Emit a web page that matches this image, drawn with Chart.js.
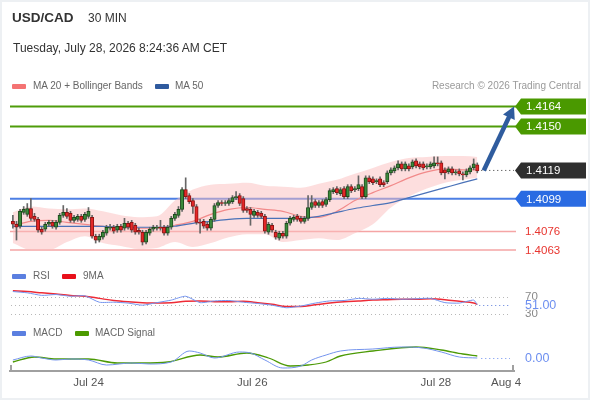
<!DOCTYPE html>
<html>
<head>
<meta charset="utf-8">
<script src="https://cdn.jsdelivr.net/npm/chart.js@4.4.1/dist/chart.umd.min.js"></script>
<style>
  html, body { margin: 0; padding: 0; background: #fff; }
  #wrap { position: relative; width: 590px; height: 400px; overflow: hidden;
          font-family: "Liberation Sans", Arial, sans-serif; color: #333; }
  #wrap canvas { position: absolute; left: 0; top: 0; }
  .t { position: absolute; white-space: nowrap; height: 14px; line-height: 14px; }
  .sw { position: absolute; width: 14px; height: 5px; border-radius: 1px; }
  .lg { font-size: 10px; color: #666; }
  #frame { position: absolute; left: 0; top: 0; right: 0; bottom: 0;
           border: 2px solid #edf0f3; pointer-events: none; }
</style>
</head>
<body>
<div id="wrap">
  <canvas id="cPrice" width="590" height="400"></canvas>
  <canvas id="cRsi" width="590" height="400"></canvas>
  <canvas id="cMacd" width="590" height="400"></canvas>

  <div class="t" style="left:12px;top:11px;font-size:13.5px;font-weight:bold;">USD/CAD</div>
  <div class="t" style="left:88px;top:11px;font-size:12px;">30 MIN</div>
  <div class="t" style="left:13px;top:41px;font-size:12px;">Tuesday, July 28, 2026 8:24:36 AM CET</div>

  <div class="sw" style="left:12px;top:84px;background:#f47373;"></div>
  <div class="t lg" style="left:33px;top:79px;">MA 20 + Bollinger Bands</div>
  <div class="sw" style="left:155px;top:84px;background:#2f5a9e;"></div>
  <div class="t lg" style="left:175px;top:79px;">MA 50</div>
  <div class="t lg" style="right:9px;top:79px;color:#9a9a9a;">Research © 2026 Trading Central</div>

  <div class="sw" style="left:12px;top:274px;background:#5b7fe0;"></div>
  <div class="t lg" style="left:33px;top:269px;">RSI</div>
  <div class="sw" style="left:62px;top:274px;background:#e8101a;"></div>
  <div class="t lg" style="left:83px;top:269px;">9MA</div>

  <div class="sw" style="left:12px;top:331px;background:#5b7fe0;"></div>
  <div class="t lg" style="left:33px;top:326px;">MACD</div>
  <div class="sw" style="left:75px;top:331px;background:#4c9a00;"></div>
  <div class="t lg" style="left:95px;top:326px;">MACD Signal</div>

  <div id="frame"></div>
</div>

<script>
// ---- data ----
const candleOpen = [
  1.40832,1.40811,1.40797,1.40895,1.40881,1.40922,1.40867,1.40846,1.40776,1.40776,
  1.40811,1.40825,1.40790,1.40825,1.40874,1.40895,1.40888,1.40839,1.40846,1.40867,
  1.40846,1.40867,1.40860,1.40727,1.40700,1.40720,1.40748,1.40783,1.40790,1.40769,
  1.40797,1.40783,1.40818,1.40825,1.40804,1.40769,1.40755,1.40686,1.40748,1.40776,
  1.40783,1.40790,1.40790,1.40748,1.40790,1.40853,1.40874,1.40916,1.41055,1.41013,
  1.40978,1.40936,1.40825,1.40832,1.40811,1.40783,1.40846,1.40943,1.40964,1.40957,
  1.40957,1.40971,1.40999,1.41013,1.40992,1.40922,1.40916,1.40874,1.40895,1.40888,
  1.40867,1.40755,1.40804,1.40755,1.40713,1.40748,1.40727,1.40818,1.40846,1.40867,
  1.40853,1.40832,1.40853,1.40929,1.40971,1.40943,1.40971,1.40950,1.40985,1.41041,
  1.41062,1.41027,1.41062,1.41006,1.41076,1.41055,1.41062,1.41076,1.41006,1.41138,
  1.41131,1.41111,1.41131,1.41104,1.41111,1.41173,1.41187,1.41208,1.41236,1.41201,
  1.41222,1.41215,1.41257,1.41236,1.41236,1.41215,1.41215,1.41222,1.41243,1.41243,
  1.41194,1.41180,1.41201,1.41173,1.41187,1.41166,1.41159,1.41180,1.41208,1.41229];
const candleHigh = [
  1.40874,1.40832,1.40916,1.40936,1.40957,1.40992,1.40888,1.40860,1.40790,1.40825,
  1.40839,1.40839,1.40839,1.40888,1.40943,1.40922,1.40902,1.40874,1.40881,1.40881,
  1.40895,1.40929,1.40874,1.40741,1.40741,1.40769,1.40804,1.40811,1.40804,1.40811,
  1.40811,1.40853,1.40832,1.40839,1.40818,1.40783,1.40769,1.40769,1.40790,1.40804,
  1.40804,1.40839,1.40804,1.40804,1.40867,1.40895,1.40936,1.41069,1.41138,1.41027,
  1.40992,1.40950,1.40846,1.40846,1.40825,1.40860,1.40957,1.40978,1.40978,1.40978,
  1.40992,1.41013,1.41041,1.41027,1.41006,1.40936,1.40929,1.40916,1.40909,1.40902,
  1.40881,1.40825,1.40818,1.40769,1.40762,1.40762,1.40832,1.40867,1.40874,1.40881,
  1.40867,1.40867,1.41013,1.41013,1.40985,1.40978,1.40985,1.40999,1.41062,1.41069,
  1.41076,1.41069,1.41076,1.41090,1.41090,1.41076,1.41152,1.41090,1.41152,1.41152,
  1.41145,1.41131,1.41145,1.41118,1.41187,1.41208,1.41222,1.41257,1.41250,1.41250,
  1.41236,1.41264,1.41271,1.41250,1.41250,1.41236,1.41250,1.41285,1.41285,1.41257,
  1.41208,1.41215,1.41215,1.41194,1.41201,1.41180,1.41201,1.41222,1.41271,1.41243];
const candleLow = [
  1.40783,1.40700,1.40783,1.40881,1.40867,1.40839,1.40832,1.40755,1.40741,1.40762,
  1.40797,1.40783,1.40776,1.40811,1.40860,1.40853,1.40825,1.40825,1.40832,1.40825,
  1.40832,1.40853,1.40713,1.40679,1.40686,1.40706,1.40734,1.40769,1.40748,1.40755,
  1.40755,1.40769,1.40776,1.40755,1.40741,1.40741,1.40665,1.40672,1.40734,1.40762,
  1.40769,1.40769,1.40734,1.40734,1.40776,1.40839,1.40860,1.40902,1.40992,1.40957,
  1.40888,1.40811,1.40748,1.40783,1.40769,1.40769,1.40832,1.40929,1.40943,1.40943,
  1.40943,1.40957,1.40985,1.40943,1.40895,1.40895,1.40804,1.40860,1.40860,1.40853,
  1.40748,1.40741,1.40755,1.40706,1.40700,1.40713,1.40713,1.40804,1.40832,1.40832,
  1.40818,1.40818,1.40839,1.40916,1.40929,1.40929,1.40929,1.40936,1.40971,1.41027,
  1.41020,1.41013,1.40992,1.40992,1.41034,1.41041,1.41048,1.40992,1.40992,1.41097,
  1.41090,1.41097,1.41076,1.41076,1.41097,1.41159,1.41173,1.41194,1.41187,1.41187,
  1.41187,1.41201,1.41208,1.41201,1.41194,1.41201,1.41201,1.41208,1.41222,1.41159,
  1.41131,1.41166,1.41159,1.41159,1.41152,1.41124,1.41145,1.41166,1.41194,1.41173];
const candleClose = [
  1.40811,1.40790,1.40902,1.40916,1.40922,1.40853,1.40846,1.40769,1.40755,1.40811,
  1.40825,1.40797,1.40825,1.40874,1.40895,1.40867,1.40839,1.40860,1.40867,1.40839,
  1.40881,1.40902,1.40727,1.40700,1.40727,1.40755,1.40790,1.40790,1.40762,1.40797,
  1.40769,1.40818,1.40790,1.40769,1.40755,1.40755,1.40686,1.40755,1.40776,1.40790,
  1.40790,1.40783,1.40748,1.40790,1.40853,1.40881,1.40916,1.41055,1.41006,1.40971,
  1.40936,1.40825,1.40818,1.40797,1.40783,1.40846,1.40943,1.40964,1.40957,1.40964,
  1.40978,1.40999,1.41006,1.40957,1.40909,1.40909,1.40881,1.40902,1.40874,1.40867,
  1.40762,1.40811,1.40769,1.40720,1.40748,1.40727,1.40818,1.40853,1.40860,1.40846,
  1.40832,1.40853,1.40929,1.40964,1.40943,1.40964,1.40943,1.40985,1.41048,1.41055,
  1.41034,1.41055,1.41006,1.41076,1.41048,1.41062,1.41090,1.41006,1.41138,1.41111,
  1.41104,1.41118,1.41090,1.41090,1.41173,1.41194,1.41208,1.41236,1.41201,1.41236,
  1.41201,1.41250,1.41222,1.41215,1.41208,1.41222,1.41236,1.41243,1.41236,1.41173,
  1.41173,1.41201,1.41173,1.41180,1.41166,1.41159,1.41187,1.41208,1.41236,1.41187];

// Bollinger bands and moving averages, sampled at these candle positions
const bandIdx = [0,5,10,15,20,25,30,35,40,45,50,55,60,65,70,75,80,85,90,95,100,105,110,115,120,125,129];
const bandUpper = [1.40895,1.40936,1.40922,1.40916,1.40922,1.40902,1.40874,1.40860,1.40867,1.40978,
  1.41055,1.41090,1.41097,1.41104,1.41083,1.41076,1.41069,1.41097,1.41124,1.41166,
  1.41208,1.41250,1.41278,1.41285,1.41292,1.41292,1.41285];
const bandLower = [1.40679,1.40630,1.40630,1.40686,1.40727,1.40679,1.40658,1.40637,1.40644,1.40686,
  1.40651,1.40679,1.40720,1.40741,1.40741,1.40686,1.40700,1.40713,1.40700,1.40748,
  1.40811,1.40929,1.41006,1.41062,1.41104,1.41124,1.41138];
const ma20 = [1.40804,1.40832,1.40839,1.40825,1.40811,1.40797,1.40790,1.40783,1.40783,1.40804,
  1.40832,1.40881,1.40916,1.40929,1.40916,1.40902,1.40867,1.40860,1.40902,1.40978,
  1.41034,1.41083,1.41138,1.41180,1.41201,1.41194,1.41194];
const ma50 = [1.40797,1.40797,1.40797,1.40797,1.40797,1.40797,1.40790,1.40790,1.40790,1.40797,
  1.40818,1.40832,1.40846,1.40853,1.40853,1.40853,1.40853,1.40867,1.40895,1.40922,
  1.40943,1.40964,1.40999,1.41034,1.41069,1.41104,1.41131];

// key levels on the right
const levelValues = [1.4164, 1.4150, 1.4119, 1.4099, 1.4076, 1.4063];
const levelLabels = ['1.4164', '1.4150', '1.4119', '1.4099', '1.4076', '1.4063'];
const levelKinds  = ['res', 'res', 'last', 'pivot', 'sup', 'sup'];
// projected move: from last close to first target
const arrowX = [130.8, 139.2];
const arrowY = [1.4119, 1.4164];

// RSI panel
const rsiIdx = [0,4,8,12,16,20,24,28,32,36,40,44,48,52,56,60,64,68,72,76,80,84,88,92,96,100,104,108,112,116,120,124,128,129];
const rsiValues = [82,79,73,75,71,72,57,57,55,50,56,62,71,56,60,61,57,54,50,44,48,55,60,61,66,64,66,64,65,66,56,55,62,51];
const rsiMa = [84,82,79,76,73,71,66,61,58,56,55,56,59,60,58,58,59,56,52,47,47,51,55,58,60,62,63,64,64,65,63,59,55,52];
const rsiGrid = [70, 50, 30];
const rsiTickLabels = ['70', '30'];
const rsiLast = 51;

// MACD panel
const macdIdx = [0,5,8,12,16,21,26,33,38,44,49,52,56,63,66,70,75,80,83,87,91,100,108,114,119,124,129];
const macdValues = [-0.00004,0.00004,0,-0.00004,-0.00002,-0.00004,-0.00014,-0.0001,-0.00012,-0.00008,
  0.00014,0.0001,0,0.00012,0.0001,-0.00004,-0.0002,-0.00016,-0.00004,0.00006,
  0.00014,0.00018,0.00022,0.0002,0.00012,0.00002,0];
const signalIdx = [0,6,12,21,29,36,43,52,57,65,71,77,82,87,91,100,112,119,125,129];
const signalValues = [-0.00008,0.00002,-0.00002,-0.00002,-0.0001,-0.0001,-0.00008,0.00006,0.00002,0.0001,
  0,-0.00016,-0.00014,-0.00008,0.00004,0.00014,0.00022,0.00016,0.00008,0.00004];

// time axis
const tickIdx = [21, 66.5, 117.5, 137];
const tickLabels = ['Jul 24', 'Jul 26', 'Jul 28', 'Aug 4'];

// ---- drawing ----
const FONT = "'Liberation Sans', Arial, sans-serif";
const X_MIN = -0.8, X_MAX = 139.2;
const PAD_L = 10, PAD_R = 76;

Chart.defaults.font.family = FONT;
Chart.defaults.animation = false;
Chart.defaults.events = [];
Chart.defaults.plugins.legend.display = false;
Chart.defaults.plugins.tooltip.enabled = false;
Chart.defaults.elements.point.radius = 0;

const pts = (xs, ys) => xs.map((x, k) => ({ x: x, y: ys[k] }));
const hiddenX = () => ({ type: 'linear', min: X_MIN, max: X_MAX, offset: false, display: false });

const LEVEL_STYLE = {
  res:   { line: '#4f9c0a', width: 2,   tag: '#4a9900' },
  last:  { line: '#333',    width: 1,   tag: '#2f2f2f' },
  pivot: { line: '#4d7fe4', width: 2,   tag: '#2a6be2' },
  sup:   { line: '#f5a5a5', width: 1.5, text: '#e8352f' }
};

function drawTag(ctx, left, py, text, fill) {
  const h = 16, body = left + 6, right = 586;
  ctx.save();
  ctx.fillStyle = fill;
  ctx.beginPath();
  ctx.moveTo(left, py);
  ctx.lineTo(body, py - h / 2);
  ctx.lineTo(right, py - h / 2);
  ctx.lineTo(right, py + h / 2);
  ctx.lineTo(body, py + h / 2);
  ctx.closePath();
  ctx.fill();
  ctx.fillStyle = '#fff';
  ctx.font = '11.5px ' + FONT;
  ctx.textBaseline = 'middle';
  ctx.fillText(text, body + 5, py + 0.5);
  ctx.restore();
}

const priceDeco = {
  id: 'priceDeco',
  beforeDatasetsDraw(chart) {
    const { ctx, chartArea: a, scales: { y } } = chart;
    levelValues.forEach((v, k) => {
      if (levelKinds[k] === 'last') return;
      const st = LEVEL_STYLE[levelKinds[k]];
      const py = y.getPixelForValue(v);
      ctx.save();
      ctx.strokeStyle = st.line;
      ctx.lineWidth = st.width;
      ctx.beginPath();
      ctx.moveTo(a.left, py);
      ctx.lineTo(a.right + 2, py);
      ctx.stroke();
      ctx.restore();
    });
  },
  afterDatasetsDraw(chart) {
    const { ctx, chartArea: a, scales: { x, y } } = chart;
    // dotted line from the last candle to the price tag
    const k = levelKinds.indexOf('last');
    const py = y.getPixelForValue(levelValues[k]);
    ctx.save();
    ctx.strokeStyle = '#333';
    ctx.lineWidth = 1;
    ctx.setLineDash([1, 3]);
    ctx.beginPath();
    ctx.moveTo(x.getPixelForValue(candleClose.length - 1) + 4, py);
    ctx.lineTo(a.right, py);
    ctx.stroke();
    ctx.restore();

    // arrow
    const x0 = x.getPixelForValue(arrowX[0]), y0 = y.getPixelForValue(arrowY[0]);
    const x1 = x.getPixelForValue(arrowX[1]), y1 = y.getPixelForValue(arrowY[1]);
    const ang = Math.atan2(y1 - y0, x1 - x0);
    const head = 12, half = 6.5;
    const bx = x1 - Math.cos(ang) * head, by = y1 - Math.sin(ang) * head;
    ctx.save();
    ctx.strokeStyle = '#2f5c9e';
    ctx.fillStyle = '#2f5c9e';
    ctx.lineWidth = 4.5;
    ctx.beginPath();
    ctx.moveTo(x0, y0);
    ctx.lineTo(bx + Math.cos(ang) * 2, by + Math.sin(ang) * 2);
    ctx.stroke();
    ctx.beginPath();
    ctx.moveTo(x1, y1);
    ctx.lineTo(bx + Math.sin(ang) * half, by - Math.cos(ang) * half);
    ctx.lineTo(bx - Math.sin(ang) * half, by + Math.cos(ang) * half);
    ctx.closePath();
    ctx.fill();
    ctx.restore();
  },
  afterDraw(chart) {
    const { ctx, chartArea: a, scales: { y } } = chart;
    levelValues.forEach((v, k) => {
      const st = LEVEL_STYLE[levelKinds[k]];
      const py = y.getPixelForValue(v);
      if (st.tag) {
        drawTag(ctx, a.right + 1, py, levelLabels[k], st.tag);
      } else {
        ctx.save();
        ctx.fillStyle = st.text;
        ctx.font = '11.5px ' + FONT;
        ctx.textBaseline = 'middle';
        ctx.fillText(levelLabels[k], a.right + 11, py + 0.5);
        ctx.restore();
      }
    });
  }
};

const upCandle = candleOpen.map((o, i) => candleClose[i] >= o);

new Chart(document.getElementById('cPrice'), {
  type: 'bar',
  data: {
    datasets: [
      { type: 'line', data: pts(bandIdx, bandUpper), borderWidth: 0, fill: '+1',
        backgroundColor: 'rgba(252, 190, 190, 0.5)', cubicInterpolationMode: 'monotone', order: 20 },
      { type: 'line', data: pts(bandIdx, bandLower), borderWidth: 0, fill: false,
        cubicInterpolationMode: 'monotone', order: 19 },
      { type: 'line', data: pts(bandIdx, ma20), borderColor: '#f28a8a', borderWidth: 1.2,
        cubicInterpolationMode: 'monotone', order: 12 },
      { type: 'line', data: pts(bandIdx, ma50), borderColor: '#4a72b8', borderWidth: 1.2,
        cubicInterpolationMode: 'monotone', order: 11 },
      { type: 'bar', data: candleLow.map((l, i) => ({ x: i, y: [l, candleHigh[i]] })),
        backgroundColor: '#666', barThickness: 1, grouped: false, order: 5 },
      { type: 'bar', data: candleOpen.map((o, i) => ({ x: i, y: [o, candleClose[i]] })),
        backgroundColor: upCandle.map(u => u ? '#3b8a3b' : '#e52727'),
        borderColor: upCandle.map(u => u ? '#1d4a1d' : '#8c1414'),
        borderWidth: 1, borderSkipped: false, barThickness: 3.4, grouped: false, order: 4 }
    ]
  },
  options: {
    responsive: false,
    layout: { padding: { left: PAD_L, right: PAD_R, top: 95, bottom: 138 } },
    scales: {
      x: hiddenX(),
      y: { type: 'linear', min: 1.405456, max: 1.417209, display: false }
    }
  },
  plugins: [priceDeco]
});

const rsiDeco = {
  id: 'rsiDeco',
  beforeDatasetsDraw(chart) {
    const { ctx, chartArea: a, scales: { y } } = chart;
    ctx.save();
    ctx.strokeStyle = '#b8b8b8';
    ctx.lineWidth = 1;
    ctx.setLineDash([1, 3]);
    rsiGrid.forEach(v => {
      const py = Math.round(y.getPixelForValue(v)) + 0.5;
      ctx.beginPath();
      ctx.moveTo(a.left + 1, py);
      ctx.lineTo(a.right - 4, py);
      ctx.stroke();
    });
    ctx.restore();
  },
  afterDraw(chart) {
    const { ctx, chartArea: a, scales: { x, y } } = chart;
    const lx = a.right + 11;
    ctx.save();
    ctx.font = '11.5px ' + FONT;
    ctx.textBaseline = 'middle';
    ctx.fillStyle = '#888';
    rsiTickLabels.forEach(t => ctx.fillText(t, lx, y.getPixelForValue(Number(t))));
    const py = y.getPixelForValue(rsiLast);
    ctx.strokeStyle = '#6d8ff0';
    ctx.setLineDash([1, 3]);
    ctx.beginPath();
    ctx.moveTo(x.getPixelForValue(rsiIdx[rsiIdx.length - 1]) + 2, Math.round(py) + 0.5);
    ctx.lineTo(a.right - 4, Math.round(py) + 0.5);
    ctx.stroke();
    ctx.font = '12.5px ' + FONT;
    const txt = rsiLast.toFixed(2);
    ctx.fillStyle = '#fff';
    ctx.fillRect(lx - 1, py - 5, ctx.measureText(txt).width + 2, 10);
    ctx.fillStyle = '#6d8ff0';
    ctx.fillText(txt, lx, py + 0.5);
    ctx.restore();
  }
};

new Chart(document.getElementById('cRsi'), {
  type: 'line',
  data: {
    datasets: [
      { data: pts(rsiIdx, rsiMa), borderColor: '#ee2b36', borderWidth: 1.5,
        cubicInterpolationMode: 'monotone', order: 2 },
      { data: pts(rsiIdx, rsiValues), borderColor: '#7494ee', borderWidth: 1, tension: 0.2, order: 1 }
    ]
  },
  options: {
    responsive: false,
    layout: { padding: { left: PAD_L, right: PAD_R, top: 286, bottom: 82 } },
    scales: {
      x: hiddenX(),
      y: { type: 'linear', min: 20, max: 95, display: false }
    }
  },
  plugins: [rsiDeco]
});

const macdDeco = {
  id: 'macdDeco',
  afterDraw(chart) {
    const { ctx, chartArea: a, scales: { x, y } } = chart;
    const py = Math.round(y.getPixelForValue(0)) + 0.5;
    ctx.save();
    ctx.strokeStyle = '#6d8ff0';
    ctx.setLineDash([1, 3]);
    ctx.beginPath();
    ctx.moveTo(x.getPixelForValue(macdIdx[macdIdx.length - 1]) + 4, py);
    ctx.lineTo(a.right - 4, py);
    ctx.stroke();
    ctx.setLineDash([]);
    ctx.font = '12.5px ' + FONT;
    ctx.textBaseline = 'middle';
    ctx.fillStyle = '#6d8ff0';
    ctx.fillText((0).toFixed(2), a.right + 11, py);
    // end marks of the time axis
    ctx.strokeStyle = '#a0a0a0';
    ctx.lineWidth = 2;
    ctx.beginPath();
    ctx.moveTo(a.left + 1, a.bottom + 1);
    ctx.lineTo(a.left + 1, a.bottom - 6);
    ctx.moveTo(a.right - 1, a.bottom + 1);
    ctx.lineTo(a.right - 1, a.bottom - 6);
    ctx.stroke();
    ctx.restore();
  }
};

new Chart(document.getElementById('cMacd'), {
  type: 'line',
  data: {
    datasets: [
      { data: pts(signalIdx, signalValues), borderColor: '#4c9a06', borderWidth: 1.3,
        cubicInterpolationMode: 'monotone', order: 2 },
      { data: pts(macdIdx, macdValues), borderColor: '#7494ee', borderWidth: 1,
        cubicInterpolationMode: 'monotone', order: 1 }
    ]
  },
  options: {
    responsive: false,
    layout: { padding: { left: PAD_L, right: PAD_R, top: 340, bottom: 7 } },
    scales: {
      x: {
        type: 'linear', min: X_MIN, max: X_MAX, offset: false,
        grid: { display: false, drawTicks: false },
        border: { display: true, color: '#a0a0a0', width: 2 },
        afterBuildTicks: s => { s.ticks = tickIdx.map(v => ({ value: v })); },
        afterFit: s => { s.height = 22; },
        ticks: {
          autoSkip: false, maxRotation: 0, padding: 5, color: '#555',
          font: { size: 11.5 },
          callback: (v, i) => tickLabels[i]
        }
      },
      y: { type: 'linear', min: -0.00026, max: 0.00036, display: false }
    }
  },
  plugins: [macdDeco]
});
</script>
</body>
</html>
